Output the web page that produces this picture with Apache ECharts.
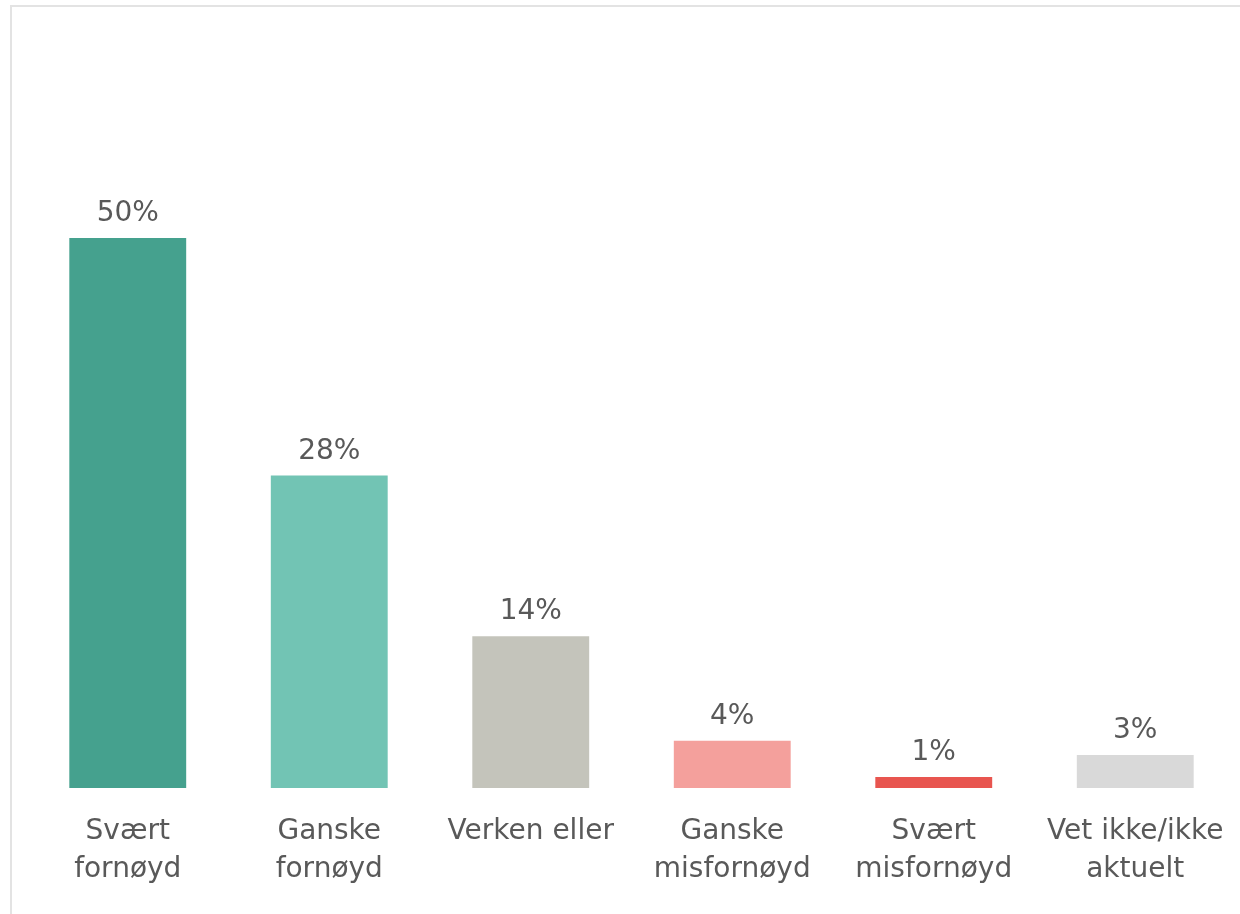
<!DOCTYPE html>
<html>
<head>
<meta charset="utf-8">
<script src="https://cdn.jsdelivr.net/npm/echarts@6/dist/echarts.min.js"></script>
<style>
  html, body { margin: 0; padding: 0; background: #fff; }
  #frame { position: absolute; left: 10px; top: 5px; width: 1240px; height: 920px; border: 2px solid #e3e3e3; box-sizing: border-box; }
  #chart { position: absolute; left: 0; top: 0; width: 1240px; height: 914px; }
</style>
</head>
<body>
<div id="frame"></div>
<div id="chart"></div>
<script>
// kategorier og verdier (prosent, lest av figuren)
const categories = ['Svært\nfornøyd', 'Ganske\nfornøyd', 'Verken eller', 'Ganske\nmisfornøyd', 'Svært\nmisfornøyd', 'Vet ikke/ikke\naktuelt']
const values = [50, 28.4, 13.8, 4.3, 1.0, 3.0]
const barColors = ['#45a18e', '#72c4b4', '#c4c4bb', '#f4a09c', '#e8554f', '#d9d9d9']

const chart = echarts.init(document.getElementById('chart'))

chart.setOption({
  animation: false,
  textStyle: { fontFamily: 'DejaVu Sans' },
  grid: { left: 27, right: 4, top: 128, bottom: 126 },
  xAxis: {
    type: 'category',
    data: categories,
    axisLine: { show: false },
    axisTick: { show: false },
    axisLabel: {
      color: '#595959',
      fontSize: 28,
      lineHeight: 38,
      margin: 25,
      interval: 0
    }
  },
  yAxis: {
    type: 'value',
    min: 0,
    max: 60,
    show: false
  },
  series: [{
    type: 'bar',
    data: values.map((v, i) => ({ value: v, itemStyle: { color: barColors[i] } })),
    barCategoryGap: '42%',
    label: {
      show: true,
      position: 'top',
      distance: 10,
      color: '#595959',
      fontSize: 28,
      formatter: p => Math.round(p.value) + '%'
    }
  }]
})
</script>
</body>
</html>
